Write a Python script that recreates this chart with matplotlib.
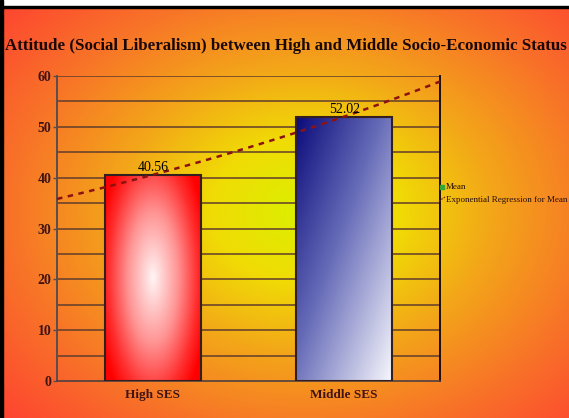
import numpy as np
import matplotlib
matplotlib.use("Agg")
import matplotlib.pyplot as plt
from matplotlib.colors import LinearSegmentedColormap
from matplotlib.patches import Rectangle
from matplotlib.lines import Line2D

# ---- data ----
categories = ["High SES", "Middle SES"]
mean_values = [40.56, 52.02]
value_labels = ["40.56", "52.02"]
y_ticks = [0, 10, 20, 30, 40, 50, 60]
title = "Attitude (Social Liberalism) between High and Middle Socio-Economic Status"
legend_labels = ["Mean", "Exponential Regression for Mean"]

W, H = 569, 418
fig = plt.figure(figsize=(W / 100, H / 100), dpi=100)

# ---- radial background ----
bg = fig.add_axes([0, 0, 1, 1], zorder=-10)
bg.set_xlim(0, W)
bg.set_ylim(H, 0)
bg.axis("off")
yy, xx = np.mgrid[0:H, 0:W]
r = np.sqrt(((xx - 305) / 300.0) ** 2 + ((yy - 210) / 230.0) ** 2) / 1.4
bg_cmap = LinearSegmentedColormap.from_list(
    "bgwarm",
    [(0.0, (218/255, 240/255, 0)),
     (0.22, (240/255, 220/255, 5/255)),
     (0.45, (243/255, 165/255, 25/255)),
     (0.70, (248/255, 115/255, 40/255)),
     (1.0, (255/255, 62/255, 50/255))])
bg.imshow(np.clip(r, 0, 1), cmap=bg_cmap, vmin=0, vmax=1,
          extent=[0, W, H, 0], aspect="auto", interpolation="bilinear")
bg.add_patch(Rectangle((0, 0), W, 6, color="white", zorder=2))
bg.add_patch(Rectangle((0, 6), W, 2, color="black", zorder=3))
bg.add_patch(Rectangle((0, 0), 3, H, color="black", zorder=3))

# ---- plot area ----
left, right, top, bottom = 57, 440, 76, 381
ax = fig.add_axes([left / W, (H - bottom) / H, (right - left) / W, (bottom - top) / H])
ax.set_facecolor("none")
ax.set_xlim(-0.5, 1.5)
ax.set_ylim(0, 60)

grid_color = (0.38, 0.24, 0.17)
for v in np.arange(5, 61, 5):
    ax.axhline(v, color=grid_color, lw=1.1, zorder=1)

ax.spines["top"].set_visible(False)
ax.spines["left"].set_color((0.35, 0.3, 0.3))
ax.spines["left"].set_linewidth(1.4)
ax.spines["right"].set_color((0.1, 0.05, 0.05))
ax.spines["right"].set_linewidth(1.4)
ax.spines["bottom"].set_color((0.3, 0.25, 0.25))
ax.spines["bottom"].set_linewidth(1.2)

tick_color = (0.25, 0.08, 0.08)
ax.set_yticks(y_ticks)
ax.set_yticklabels([str(t) for t in y_ticks], family="Liberation Serif",
                   fontweight="bold", fontsize=10, color=tick_color)
ax.tick_params(axis="y", length=3, pad=1, color=(0.35, 0.3, 0.3), width=1)
ax.set_xticks(range(len(categories)))
ax.set_xticklabels(categories, family="Liberation Serif", fontweight="bold",
                   fontsize=9.5, color=tick_color)
ax.tick_params(axis="x", length=0, pad=6)

bar_w = 0.5
bars = ax.bar(range(len(categories)), mean_values, width=bar_w,
              facecolor="none", edgecolor=(0.2, 0.12, 0.12), linewidth=1.5, zorder=3)

# red bar: soft radial glow
gy, gx = np.mgrid[0:200, 0:100]
u = (gx + 0.5) / 100.0
v = (gy + 0.5) / 200.0
rr = np.clip(np.sqrt(((u - 0.5) / 0.58) ** 2 + ((v - 0.5) / 0.7) ** 2), 0, 1)
red_cmap = LinearSegmentedColormap.from_list(
    "redglow", [(0, (1, 0.96, 0.96)), (0.45, (1, 0.58, 0.58)), (0.8, (1, 0.18, 0.18)), (1, (1, 0, 0))])
b0 = bars[0]
im0 = ax.imshow(rr, cmap=red_cmap, vmin=0, vmax=1, origin="lower", aspect="auto",
                extent=[b0.get_x(), b0.get_x() + bar_w, 0, mean_values[0]], zorder=2,
                interpolation="bilinear")
im0.set_clip_path(b0)

# blue bar: diagonal fade
t = np.clip((u + (1 - v)) / 2.0, 0, 1)
blue_cmap = LinearSegmentedColormap.from_list(
    "bluefade", [(0, (0.04, 0.04, 0.48)), (0.45, (0.4, 0.42, 0.72)), (1, (0.97, 0.97, 0.99))])
b1 = bars[1]
im1 = ax.imshow(t, cmap=blue_cmap, vmin=0, vmax=1, origin="lower", aspect="auto",
                extent=[b1.get_x(), b1.get_x() + bar_w, 0, mean_values[1]], zorder=2,
                interpolation="bilinear")
im1.set_clip_path(b1)
ax.set_xlim(-0.5, 1.5)
ax.set_ylim(0, 60)

for i, (val, lab) in enumerate(zip(mean_values, value_labels)):
    ax.annotate(lab, (i, val), xytext=(0, 0.5), textcoords="offset points",
                ha="center", va="bottom", family="Liberation Serif", fontsize=10,
                color="black", zorder=6)

# exponential regression of the means
xs = np.arange(1, len(mean_values) + 1)
slope, intercept = np.polyfit(xs, np.log(mean_values), 1)
xfit = np.linspace(0.5, len(mean_values) + 0.5, 100)
yfit = np.exp(intercept + slope * xfit)
reg_color = (0.55, 0.07, 0.07)
ax.plot(xfit - 1, yfit, color=reg_color, lw=1.8, ls=(0, (2.2, 2.2)), zorder=5, clip_on=False)

# title
ttl = fig.text(5 / W, 1 - 46 / H, title, family="Liberation Serif", fontweight="bold",
               fontsize=11.5, color=(0.1, 0.03, 0.03), ha="left", va="center")
fig.canvas.draw()
bb = ttl.get_window_extent()
ttl.set_fontsize(11.5 * 562 / bb.width)

# legend
fig.add_artist(Rectangle((440 / W, 1 - 189 / H), 4 / W, 4 / H, color=(0.2, 0.65, 0.2),
                         transform=fig.transFigure))
fig.add_artist(Line2D([439 / W, 445 / W], [1 - 201 / H, 1 - 197 / H], color=reg_color,
                      lw=0.8, ls=(0, (1.5, 1)), transform=fig.transFigure))
fig.text(446 / W, 1 - 187 / H, legend_labels[0], family="Liberation Serif", fontsize=6.5,
         color=(0.15, 0.05, 0.05), va="center", ha="left")
fig.text(446 / W, 1 - 199.5 / H, legend_labels[1], family="Liberation Serif", fontsize=6.5,
         color=(0.15, 0.05, 0.05), va="center", ha="left")

fig.savefig("out.png", dpi=100)
